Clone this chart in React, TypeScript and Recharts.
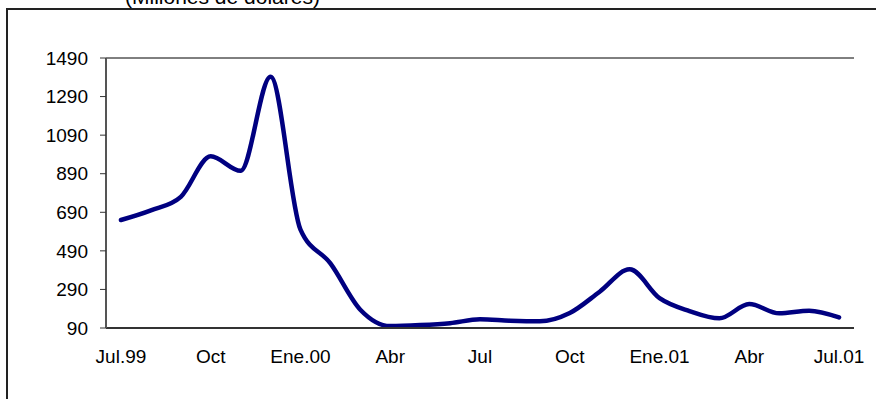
import React from 'react';
import { LineChart, Line, XAxis, YAxis, CartesianGrid } from 'recharts';

// months from Jul.99 to Jul.01, only every third one gets a label
const months = [
  'Jul.99', 'Ago', 'Sep', 'Oct', 'Nov', 'Dic',
  'Ene.00', 'Feb', 'Mar', 'Abr', 'May', 'Jun',
  'Jul', 'Ago', 'Sep', 'Oct', 'Nov', 'Dic',
  'Ene.01', 'Feb', 'Mar', 'Abr', 'May', 'Jun', 'Jul.01',
];
const values = [
  650, 700, 770, 980, 905, 1393,
  600, 425, 185, 100, 105, 115,
  135, 128, 125, 168, 278, 394,
  245, 178, 140, 214, 166, 180, 145,
];
const yTicks = [90, 290, 490, 690, 890, 1090, 1290, 1490];

const data = months.map((m, i) => ({ x: i + 0.5, name: m, v: values[i] }));
const gridTicks = months.map((_, i) => i).concat([months.length]);
const labelTicks = months.map((_, i) => i).filter((i) => i % 3 === 0).map((i) => i + 0.5);

const FONT = '"Liberation Sans", Arial, sans-serif';
const tickStyle = { fill: '#000', fontSize: 19, fontFamily: FONT };

const App: React.FC = () => {
  return (
    <div style={{ position: 'absolute', left: 0, top: 0, width: 876, height: 399, overflow: 'hidden', background: '#fff' }}>
      <div style={{ position: 'absolute', left: 6, top: 8, width: 900, height: 420, borderLeft: '2px solid #222', borderTop: '2px solid #222' }} />
      {/* title sits above the frame, its top is cut off like in the source */}
      <div style={{ position: 'absolute', left: 125, top: -15, fontFamily: FONT, fontSize: 21, color: '#000', whiteSpace: 'nowrap' }}>
        (Millones de dólares)
      </div>
      <div style={{ position: 'absolute', left: 0, top: 0 }}>
        <LineChart width={876} height={399} data={data} margin={{ top: 58, right: 22, bottom: 0, left: 0 }}>
          <CartesianGrid horizontal vertical={false} stroke="#000" strokeWidth={1} />
          <XAxis
            xAxisId="grid"
            type="number"
            dataKey="x"
            domain={[0, months.length]}
            ticks={gridTicks}
            tick={false}
            tickSize={6}
            height={8}
            stroke="#333"
            axisLine={{ stroke: '#333', strokeWidth: 2 }}
          />
          <XAxis
            xAxisId="lab"
            type="number"
            dataKey="x"
            domain={[0, months.length]}
            ticks={labelTicks}
            tickFormatter={(v: number) => months[Math.floor(v)]}
            tick={tickStyle}
            tickLine={false}
            axisLine={false}
            tickSize={0}
            tickMargin={14}
            height={63}
            interval={0}
          />
          <XAxis
            xAxisId="top"
            orientation="top"
            type="number"
            dataKey="x"
            domain={[0, months.length]}
            tick={false}
            tickLine={false}
            height={0}
            axisLine={{ stroke: '#888', strokeWidth: 2 }}
          />
          <YAxis
            yAxisId="left"
            domain={[90, 1490]}
            ticks={yTicks}
            width={106}
            tick={tickStyle}
            tickSize={6}
            tickMargin={12}
            stroke="#333"
            axisLine={{ stroke: '#555', strokeWidth: 2 }}
            interval={0}
          />
          <YAxis
            yAxisId="right"
            orientation="right"
            domain={[90, 1490]}
            width={0}
            tick={false}
            tickLine={false}
            axisLine={{ stroke: '#888', strokeWidth: 2 }}
          />
          <Line
            xAxisId="grid"
            yAxisId="left"
            dataKey="v"
            type="monotone"
            stroke="#000080"
            strokeWidth={4.5}
            strokeLinecap="round"
            dot={false}
            isAnimationActive={false}
          />
        </LineChart>
      </div>
    </div>
  );
};

export default App;
